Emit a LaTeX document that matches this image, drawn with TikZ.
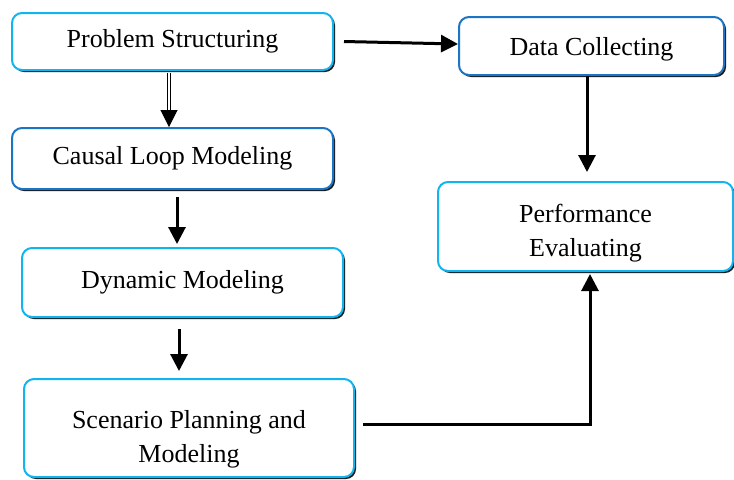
\documentclass[tikz,border=0pt]{standalone}
\usepackage{fontspec}
\setmainfont{Liberation Serif}
\usetikzlibrary{arrows.meta,shadows,calc}
\definecolor{boxCyan}{RGB}{18,180,240}
\definecolor{boxBlue}{RGB}{28,116,196}
\tikzstyle{cyanBox}=[draw=boxCyan,fill=white,rounded corners=5pt,line width=1pt,align=center,drop shadow={shadow xshift=1pt,shadow yshift=-1pt,fill=black,opacity=0.9}]
\tikzstyle{blueBox}=[cyanBox,draw=boxBlue]
\tikzstyle{flow}   =[-{Triangle[width=8.5pt,length=8.5pt]},line width=1.5pt]

\begin{document}
\begin{tikzpicture}[x=0.5pt,y=-0.5pt,font=\fontsize{13}{17}\selectfont]
      \useasboundingbox (0,0) rectangle (734,479);
      \node [cyanBox,minimum width=160.5pt,minimum height=28.5pt] (ps) at (172.5,41.5) {Problem Structuring};
      \node [blueBox,minimum width=160.5pt,minimum height=30.5pt] (cl) at (172.5,158.5) {Causal Loop Modeling};
      \node [cyanBox,minimum width=160.5pt,minimum height=34.5pt] (dm) at (182.5,282.5) {Dynamic Modeling};
      \node [cyanBox,minimum width=165pt,minimum height=49pt,text height=37pt] (sp) at (189,428) {Scenario Planning and\\Modeling};
      \node [blueBox,minimum width=132.5pt,minimum height=29pt,text height=12pt] (dc) at (591.5,46) {Data Collecting};
      \node [cyanBox,minimum width=147.5pt,minimum height=44.5pt,text height=33pt] (pe) at (585.5,226.5) {Performance\\Evaluating};
      \draw [flow,line width=0.5pt,double,double distance=1.2pt] ([xshift=-1.75pt,yshift=-1pt]ps.south) -- ([xshift=-1.75pt]cl.north);
      \draw [flow] ([xshift=2.25pt,yshift=-3.5pt]cl.south) -- ([xshift=2.25pt,yshift=1.5pt]cl.south |- dm.north);
      \draw [flow] ([xshift=-1.75pt,yshift=-5.5pt]dm.south) -- ([xshift=-1.75pt,yshift=3.5pt]dm.south |- sp.north);
      \draw [flow] ([xshift=5pt]ps.east) -- ([yshift=1pt]dc.west);
      \draw [flow] ([xshift=-2.25pt]dc.south) -- ([xshift=-2.25pt,yshift=4.5pt]dc.south |- pe.north);
      \draw [flow] ([xshift=4pt,yshift=1.75pt]sp.east) -| ([xshift=2.25pt,yshift=-1pt]pe.south);
    \end{tikzpicture}
\end{document}
